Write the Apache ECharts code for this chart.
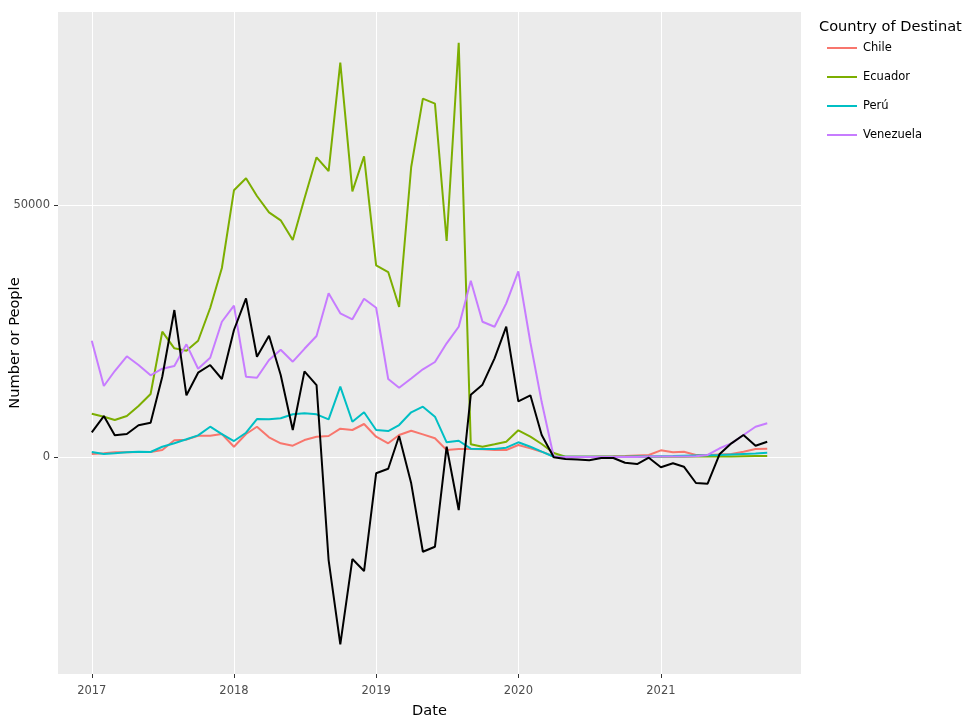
<!DOCTYPE html>
<html>
<head>
<meta charset="utf-8">
<script src="https://cdn.jsdelivr.net/npm/echarts@6/dist/echarts.min.js"></script>
<style>
html,body{margin:0;padding:0;background:#fff;}
#chart{width:963px;height:716px;}
</style>
</head>
<body>
<div id="chart"></div>
<script>
// Monthly dates Jan 2017 .. Oct 2021
const months = [
 '2017-01','2017-02','2017-03','2017-04','2017-05','2017-06','2017-07','2017-08','2017-09','2017-10','2017-11','2017-12',
 '2018-01','2018-02','2018-03','2018-04','2018-05','2018-06','2018-07','2018-08','2018-09','2018-10','2018-11','2018-12',
 '2019-01','2019-02','2019-03','2019-04','2019-05','2019-06','2019-07','2019-08','2019-09','2019-10','2019-11','2019-12',
 '2020-01','2020-02','2020-03','2020-04','2020-05','2020-06','2020-07','2020-08','2020-09','2020-10','2020-11','2020-12',
 '2021-01','2021-02','2021-03','2021-04','2021-05','2021-06','2021-07','2021-08','2021-09','2021-10'
];

const chile = [
 600,730,930,930,990,990,1390,3310,3440,4230,4230,4560,
 2040,4560,6010,3900,2720,2240,3370,4030,4170,5620,5360,6550,
 4030,2720,4360,5220,4500,3710,1390,1590,1590,1530,1390,1390,
 2380,1720,1060,100,50,50,50,100,150,200,300,400,
 1330,930,1060,400,400,500,600,1060,1590,1650
];
const ecuador = [
 8590,8000,7340,8130,10120,12500,24860,21570,21090,23070,29560,37500,
 52910,55290,51780,48550,46960,43050,51290,59460,56740,78230,52710,59660,
 38030,36700,29760,57540,71090,70100,42850,82200,2520,2040,2540,3040,
 5300,4030,2580,790,60,50,40,40,40,40,40,40,
 50,60,60,80,100,100,120,150,180,200
];
const peru = [
 990,600,730,930,1060,990,2040,2720,3510,4300,6010,4560,
 3170,4820,7540,7480,7680,8470,8670,8470,7480,13950,7000,8870,
 5360,5160,6350,8870,9980,8000,2920,3230,1650,1590,1590,1850,
 2920,2040,1060,50,30,30,30,40,50,60,80,100,
 150,200,250,300,350,400,500,600,700,850
];
const venezuela = [
 23070,14090,17060,19980,18250,16210,17520,18050,22360,17520,19700,26840,
 30020,15930,15730,19240,21290,18910,21470,24010,32480,28510,27320,31410,
 29620,15480,13750,15570,17400,18850,22560,25850,34980,26840,25850,30490,
 36840,22720,10900,0,0,0,0,0,0,0,0,100,
 100,100,100,150,400,1730,2720,4360,6010,6690
];
const net = [
 4900,8130,4300,4560,6290,6810,15930,29160,12240,16730,18250,15480,
 25200,31480,19900,24070,16270,5360,17000,14280,-20440,-37160,-20240,-22620,
 -3230,-2320,4170,-5220,-18790,-17800,2040,-10520,12360,14350,19580,25850,
 11050,12240,4360,-60,-400,-500,-660,-200,-200,-1130,-1390,-140,
 -2040,-1250,-1920,-5160,-5290,600,2720,4360,2240,3040
];

const yTicks = [0, 50000];
const xTickYears = ['2017','2018','2019','2020','2021'];

const names = ['Chile','Ecuador','Perú','Venezuela'];
const colors = ['#F8766D','#7CAE00','#00BFC4','#C77CFF'];
const values = [chile, ecuador, peru, venezuela];

const ts = months.map(m => Date.UTC(+m.slice(0,4), +m.slice(5,7)-1, 1));
const xTickTs = xTickYears.map(y => Date.UTC(+y, 0, 1));
const span = ts[ts.length-1] - ts[0];

const font = 'DejaVu Sans';

const series = names.map((n, k) => ({
  name: n, type: 'line', showSymbol: false, symbol: 'none',
  data: ts.map((t, i) => [t, values[k][i]]),
  lineStyle: { color: colors[k], width: 2 },
  itemStyle: { color: colors[k] },
  animation: false, z: 2
}));
series.push({
  name: 'Net', type: 'line', showSymbol: false, symbol: 'none',
  data: ts.map((t, i) => [t, net[i]]),
  lineStyle: { color: '#000000', width: 2 },
  itemStyle: { color: '#000000' },
  animation: false, z: 3
});

const chart = echarts.init(document.getElementById('chart'), null, {renderer: 'canvas'});
chart.setOption({
  animation: false,
  backgroundColor: '#ffffff',
  grid: { left: 58, right: 162, top: 12, bottom: 42, show: true, backgroundColor: '#EBEBEB', borderWidth: 0,
    containLabel: false, outerBoundsMode: 'none' },
  xAxis: {
    type: 'value',
    min: ts[0] - span * 0.05,
    max: ts[ts.length-1] + span * 0.05,
    axisLine: { show: false, onZero: false },
    axisTick: { show: true, length: 4, lineStyle: { color: '#333333', width: 1 }, customValues: xTickTs },
    axisLabel: { customValues: xTickTs, formatter: v => String(new Date(v).getUTCFullYear()),
      color: '#4D4D4D', fontFamily: font, fontSize: 11.5, margin: 11, hideOverlap: false },
    splitLine: { show: true, lineStyle: { color: '#FFFFFF', width: 1 } },
    name: 'Date', nameLocation: 'middle', nameGap: 30, nameMoveOverlap: false,
    nameTextStyle: { color: '#000000', fontFamily: font, fontSize: 14.6 }
  },
  yAxis: {
    type: 'value',
    min: -43050, max: 88290,
    axisLine: { show: false, onZero: false },
    axisTick: { show: true, length: 4, lineStyle: { color: '#333333', width: 1 }, customValues: yTicks },
    axisLabel: { customValues: yTicks, formatter: v => String(v), color: '#4D4D4D', fontFamily: font, fontSize: 11.5, margin: 8 },
    splitLine: { show: true, lineStyle: { color: '#FFFFFF', width: 1 } },
    name: 'Number or People', nameLocation: 'middle', nameGap: 35, nameRotate: 90, nameMoveOverlap: false,
    nameTextStyle: { color: '#000000', fontFamily: font, fontSize: 14.6 }
  },
  legend: {
    data: names, orient: 'vertical', left: 822, top: 37, itemGap: 17,
    icon: 'rect', itemWidth: 30, itemHeight: 2,
    textStyle: { color: '#000000', fontFamily: font, fontSize: 11.5, padding: [0,0,0,1] },
    selectedMode: false
  },
  graphic: [{
    type: 'text', left: 819, top: 20,
    style: { text: 'Country of Destination', fill: '#000000', font: '14.6px "DejaVu Sans"' }
  }],
  series: series
});
</script>
</body>
</html>
